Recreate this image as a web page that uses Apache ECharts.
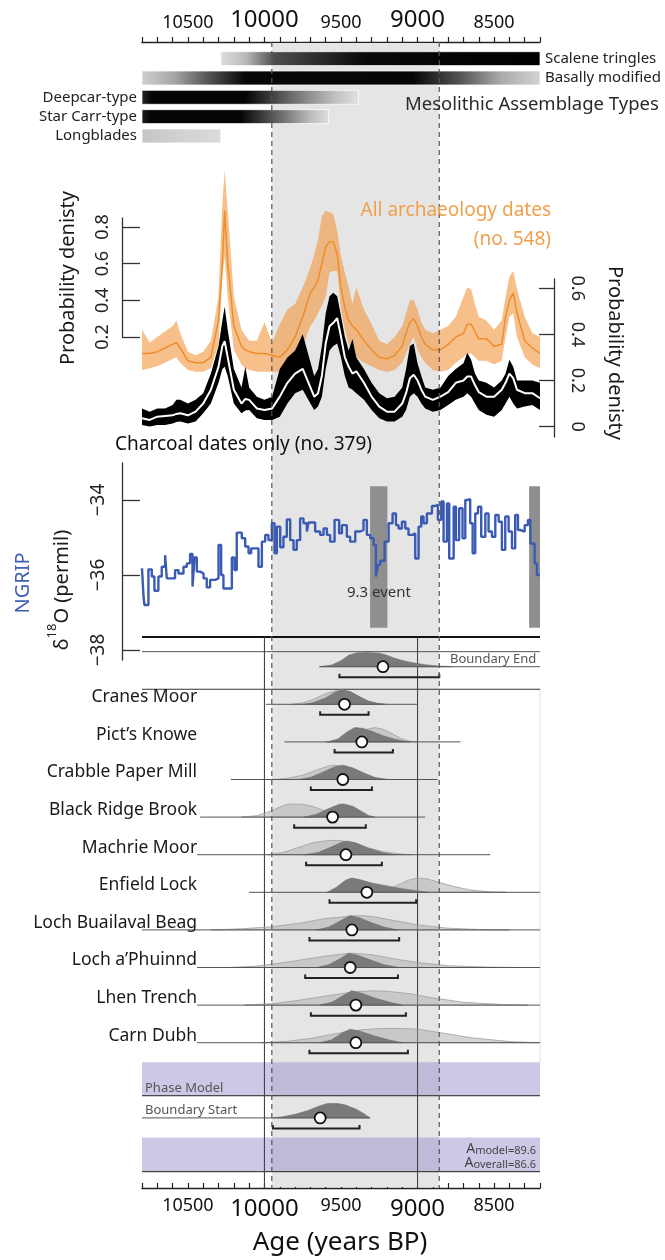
<!DOCTYPE html>
<html>
<head>
<meta charset="utf-8">
<script src="https://cdn.jsdelivr.net/npm/echarts@6/dist/echarts.min.js"></script>
<style>
html, body { margin: 0; padding: 0; background: #fff; }
#chart { width: 665px; height: 1260px; }
</style>
</head>
<body>
<div id="chart"></div>
<script>
const FONT = '"Noto Sans", "Open Sans", sans-serif';
const AGE_MIN = 8200, AGE_MAX = 10800;

// age axis
const ageTicks = [10800, 10700, 10600, 10500, 10400, 10300, 10200, 10100, 10000, 9900, 9800, 9700, 9600, 9500,
  9400, 9300, 9200, 9100, 9000, 8900, 8800, 8700, 8600, 8500, 8400, 8300, 8200];
const ageLabels = [10500, 10000, 9500, 9000, 8500];
const ageBig = [10000, 9000];
const shadeSpan = [9952, 8858];
const solidAges = [10000, 9000];

// mesolithic assemblage types
const typeNames = ['Scalene tringles', 'Basally modified', 'Deepcar-type', 'Star Carr-type', 'Longblades'];
const typeFrom = [10285, 10800, 10800, 10800, 10800];
const typeTo = [8200, 8200, 9386, 9582, 10285];

// summed probability densities
const densYears = [10800, 10750, 10700, 10650, 10600, 10575, 10550, 10500, 10450, 10400,
  10350, 10300, 10275, 10260, 10240, 10200, 10150, 10125, 10100, 10050,
  10000, 9950, 9900, 9850, 9800, 9750, 9700, 9675, 9650, 9625,
  9600, 9575, 9550, 9525, 9500, 9475, 9450, 9425, 9400, 9350,
  9300, 9250, 9200, 9150, 9100, 9075, 9050, 9025, 9000, 8975,
  8950, 8900, 8850, 8800, 8750, 8700, 8675, 8650, 8625, 8600,
  8550, 8500, 8450, 8425, 8400, 8375, 8350, 8300, 8250, 8200];
const allMed = [0.11, 0.11, 0.12, 0.14, 0.16, 0.17, 0.14, 0.07, 0.06, 0.06,
  0.09, 0.29, 0.60, 0.89, 0.60, 0.26, 0.15, 0.13, 0.12, 0.11,
  0.11, 0.10, 0.09, 0.13, 0.20, 0.31, 0.44, 0.47, 0.51, 0.60,
  0.69, 0.72, 0.72, 0.65, 0.47, 0.36, 0.29, 0.26, 0.24, 0.18,
  0.13, 0.09, 0.08, 0.10, 0.15, 0.22, 0.28, 0.30, 0.26, 0.20,
  0.16, 0.13, 0.13, 0.16, 0.20, 0.22, 0.27, 0.27, 0.23, 0.19,
  0.19, 0.15, 0.16, 0.31, 0.40, 0.44, 0.33, 0.18, 0.14, 0.11];
const allHi = [0.24, 0.17, 0.20, 0.23, 0.26, 0.29, 0.22, 0.12, 0.10, 0.12,
  0.18, 0.42, 0.93, 1.11, 0.89, 0.42, 0.24, 0.21, 0.18, 0.18,
  0.28, 0.17, 0.27, 0.35, 0.38, 0.47, 0.58, 0.65, 0.73, 0.86,
  0.89, 0.88, 0.87, 0.78, 0.64, 0.55, 0.47, 0.38, 0.47, 0.35,
  0.27, 0.18, 0.16, 0.20, 0.26, 0.33, 0.40, 0.40, 0.35, 0.28,
  0.24, 0.22, 0.24, 0.26, 0.31, 0.42, 0.47, 0.46, 0.38, 0.31,
  0.29, 0.24, 0.29, 0.42, 0.53, 0.56, 0.46, 0.31, 0.22, 0.20];
const allLo = [0.02, 0.03, 0.04, 0.06, 0.08, 0.09, 0.06, 0.02, 0.01, 0.01,
  0.03, 0.16, 0.53, 0.64, 0.42, 0.13, 0.05, 0.03, 0.02, 0.01,
  0.01, 0.01, 0.01, 0.04, 0.09, 0.15, 0.26, 0.29, 0.33, 0.37,
  0.42, 0.55, 0.56, 0.56, 0.35, 0.24, 0.16, 0.12, 0.09, 0.06,
  0.04, 0.02, 0.01, 0.02, 0.06, 0.11, 0.16, 0.20, 0.13, 0.09,
  0.06, 0.02, 0.01, 0.02, 0.06, 0.09, 0.11, 0.11, 0.09, 0.07,
  0.07, 0.05, 0.07, 0.20, 0.31, 0.33, 0.20, 0.09, 0.05, 0.03];
const charMed = [0.036, 0.029, 0.043, 0.046, 0.049, 0.055, 0.058, 0.049, 0.065, 0.10,
  0.16, 0.26, 0.35, 0.37, 0.30, 0.16, 0.10, 0.12, 0.116, 0.079,
  0.072, 0.079, 0.13, 0.19, 0.23, 0.25, 0.17, 0.13, 0.145, 0.22,
  0.36, 0.435, 0.45, 0.47, 0.39, 0.30, 0.26, 0.23, 0.24, 0.19,
  0.13, 0.087, 0.065, 0.065, 0.10, 0.145, 0.21, 0.225, 0.20, 0.16,
  0.13, 0.116, 0.13, 0.15, 0.19, 0.20, 0.217, 0.217, 0.18, 0.15,
  0.13, 0.13, 0.16, 0.19, 0.23, 0.21, 0.16, 0.145, 0.145, 0.123];
const charHi = [0.079, 0.065, 0.079, 0.079, 0.094, 0.116, 0.116, 0.10, 0.116, 0.145,
  0.23, 0.35, 0.46, 0.52, 0.42, 0.25, 0.17, 0.26, 0.17, 0.13,
  0.116, 0.13, 0.25, 0.30, 0.33, 0.40, 0.28, 0.22, 0.25, 0.35,
  0.49, 0.565, 0.58, 0.565, 0.48, 0.39, 0.33, 0.38, 0.30, 0.25,
  0.19, 0.145, 0.123, 0.13, 0.17, 0.25, 0.35, 0.36, 0.275, 0.22,
  0.17, 0.16, 0.17, 0.22, 0.25, 0.275, 0.32, 0.29, 0.23, 0.20,
  0.19, 0.17, 0.20, 0.23, 0.29, 0.26, 0.20, 0.20, 0.20, 0.19];
const charLo = [0.007, 0.0, 0.007, 0.007, 0.014, 0.02, 0.022, 0.014, 0.022, 0.058,
  0.10, 0.19, 0.25, 0.26, 0.22, 0.10, 0.058, 0.07, 0.072, 0.036,
  0.029, 0.029, 0.043, 0.10, 0.145, 0.16, 0.10, 0.072, 0.087, 0.13,
  0.25, 0.33, 0.35, 0.36, 0.30, 0.22, 0.17, 0.16, 0.145, 0.116,
  0.072, 0.036, 0.022, 0.022, 0.043, 0.072, 0.13, 0.145, 0.13, 0.10,
  0.079, 0.065, 0.072, 0.094, 0.116, 0.13, 0.145, 0.13, 0.10, 0.072,
  0.051, 0.043, 0.072, 0.10, 0.13, 0.10, 0.079, 0.087, 0.094, 0.072];

// NGRIP d18O (value holds from its year to the next one)
const ngripYears = [10800, 10790, 10784, 10758, 10736, 10719, 10693, 10671, 10649, 10638,
  10584, 10562, 10529, 10507, 10486, 10470, 10457, 10442, 10420, 10398,
  10377, 10355, 10322, 10300, 10283, 10268, 10213, 10196, 10181, 10148,
  10126, 10104, 10087, 10039, 10017, 9995, 9974, 9952, 9934, 9919,
  9897, 9876, 9854, 9832, 9810, 9789, 9767, 9745, 9723, 9712,
  9669, 9636, 9614, 9592, 9571, 9542, 9512, 9494, 9462, 9440,
  9407, 9375, 9353, 9331, 9309, 9287, 9272, 9259, 9244, 9215,
  9189, 9163, 9141, 9124, 9102, 9080, 9059, 9032, 9015, 8993,
  8976, 8961, 8939, 8906, 8884, 8867, 8845, 8830, 8808, 8793,
  8764, 8749, 8728, 8706, 8688, 8673, 8656, 8640, 8623, 8605,
  8584, 8557, 8536, 8514, 8492, 8470, 8449, 8427, 8405, 8383,
  8362, 8344, 8329, 8300, 8279, 8263, 8235, 8220, 8200];
const ngripVals = [-35.82, -36.58, -36.80, -35.85, -36.04, -36.42, -36.04, -35.78, -35.47, -36.09,
  -35.87, -35.96, -35.78, -35.69, -35.44, -36.31, -35.53, -35.91, -35.96, -36.09,
  -36.33, -36.13, -36.09, -35.20, -36.00, -36.36, -35.53, -35.87, -34.87, -35.02,
  -35.24, -35.42, -35.29, -35.78, -35.11, -34.93, -35.07, -34.62, -35.42, -34.71,
  -35.26, -34.98, -34.52, -35.07, -35.33, -35.07, -34.49, -34.62, -34.84, -34.60,
  -34.84, -34.93, -34.76, -34.93, -35.11, -34.53, -34.89, -34.67, -34.98, -35.11,
  -34.84, -34.80, -34.53, -34.93, -35.02, -35.20, -36.04, -35.73, -35.62, -35.11,
  -34.62, -34.36, -34.67, -34.76, -34.58, -34.76, -34.93, -34.89, -35.56, -34.71,
  -34.44, -34.62, -34.36, -34.16, -34.13, -34.53, -34.04, -35.11, -34.09, -35.56,
  -34.18, -35.07, -34.22, -35.02, -34.00, -33.98, -34.62, -35.42, -34.36, -34.18,
  -34.98, -34.36, -34.84, -34.98, -34.40, -34.58, -35.33, -34.44, -34.84, -35.29,
  -34.40, -34.80, -34.84, -34.67, -34.53, -35.16, -35.69, -36.00, -36.00];
const eventSpans = [[9310, 9197], [8271, 8200]];

// OxCal phase model rows
const rowNames = ['Boundary End', 'Cranes Moor', 'Pict’s Knowe', 'Crabble Paper Mill', 'Black Ridge Brook',
  'Machrie Moor', 'Enfield Lock', 'Loch Buailaval Beag', 'Loch a’Phuinnd', 'Lhen Trench', 'Carn Dubh', 'Boundary Start'];
const rowMeans = [9226, 9477, 9364, 9488, 9555, 9468, 9331, 9429, 9440, 9403, 9403, 9636];
const rowRanges = [[9510, 8858], [9636, 9320], [9542, 9161], [9697, 9298], [9806, 9338], [9728, 9233],
  [9575, 9009], [9706, 9120], [9734, 9128], [9697, 9076], [9706, 9063], [9945, 9379]];
const rowSpans = [[9640, 8200], [9990, 9000], [9870, 8720], [10220, 8870], [10420, 8950], [10440, 8525],
  [10100, 8200], [10800, 8200], [10440, 8200], [10440, 8200], [10440, 8200], [10800, 9310]];
const rowPriors = [
  null,
  [[9820, 0], [9750, 0.1], [9680, 0.35], [9600, 0.75], [9530, 0.95], [9490, 1], [9440, 0.85], [9380, 0.5], [9320, 0.22], [9260, 0.07], [9200, 0]],
  [[9600, 0], [9520, 0.1], [9450, 0.35], [9380, 0.7], [9320, 0.92], [9280, 1], [9230, 0.9], [9170, 0.6], [9110, 0.25], [9050, 0.05], [9000, 0]],
  [[9950, 0], [9850, 0.08], [9750, 0.3], [9650, 0.7], [9580, 0.95], [9540, 1], [9480, 0.9], [9400, 0.55], [9330, 0.2], [9250, 0.05], [9190, 0]],
  [[10150, 0], [10050, 0.1], [9950, 0.45], [9870, 0.85], [9820, 0.92], [9760, 0.9], [9700, 0.8], [9640, 0.58], [9580, 0.3], [9520, 0.1], [9450, 0]],
  [[9980, 0], [9880, 0.15], [9780, 0.5], [9680, 0.85], [9580, 1], [9500, 0.98], [9420, 0.85], [9330, 0.5], [9220, 0.2], [9100, 0.04], [9040, 0]],
  [[9280, 0], [9200, 0.15], [9120, 0.55], [9060, 0.85], [9000, 1], [8940, 0.95], [8860, 0.7], [8760, 0.4], [8650, 0.15], [8520, 0.03], [8420, 0]],
  [[10350, 0], [10150, 0.08], [9950, 0.22], [9750, 0.5], [9600, 0.8], [9450, 0.95], [9380, 1], [9300, 0.95], [9150, 0.65], [9000, 0.35], [8800, 0.12], [8600, 0.03], [8400, 0]],
  [[10240, 0], [10050, 0.1], [9900, 0.3], [9750, 0.55], [9600, 0.8], [9470, 0.97], [9420, 1], [9300, 0.9], [9150, 0.6], [9000, 0.35], [8800, 0.12], [8500, 0.02], [8280, 0]],
  [[10130, 0], [9950, 0.1], [9800, 0.3], [9650, 0.55], [9500, 0.8], [9400, 0.95], [9300, 1], [9200, 0.97], [9050, 0.8], [8900, 0.5], [8700, 0.2], [8450, 0.04], [8280, 0]],
  [[10020, 0], [9850, 0.1], [9700, 0.3], [9550, 0.6], [9450, 0.8], [9350, 0.92], [9230, 1], [9100, 1], [9000, 0.95], [8850, 0.7], [8650, 0.35], [8400, 0.08], [8210, 0]],
  null
];
const rowPosts = [
  [[9640, 0], [9560, 0.12], [9500, 0.42], [9450, 0.8], [9400, 0.96], [9330, 1], [9250, 0.95], [9200, 0.8], [9150, 0.6], [9100, 0.44], [9050, 0.32], [9000, 0.22], [8950, 0.14], [8900, 0.08], [8850, 0.04], [8780, 0]],
  [[9740, 0], [9680, 0.12], [9600, 0.45], [9540, 0.85], [9490, 1], [9440, 0.9], [9380, 0.55], [9320, 0.22], [9260, 0.06], [9220, 0]],
  [[9590, 0], [9520, 0.2], [9460, 0.7], [9410, 1], [9360, 0.95], [9300, 0.75], [9230, 0.45], [9160, 0.22], [9100, 0.08], [9050, 0]],
  [[9780, 0], [9700, 0.15], [9620, 0.5], [9540, 0.9], [9485, 1], [9420, 0.8], [9350, 0.45], [9280, 0.15], [9200, 0]],
  [[9740, 0], [9660, 0.2], [9580, 0.6], [9510, 0.9], [9480, 0.92], [9420, 0.75], [9370, 0.42], [9320, 0.12], [9280, 0]],
  [[9740, 0], [9650, 0.15], [9560, 0.55], [9490, 0.9], [9460, 0.95], [9400, 0.82], [9320, 0.45], [9230, 0.15], [9150, 0]],
  [[9590, 0], [9530, 0.35], [9470, 0.85], [9430, 1], [9380, 0.9], [9300, 0.65], [9200, 0.45], [9100, 0.25], [9000, 0.1], [8930, 0]],
  [[9660, 0], [9580, 0.2], [9500, 0.65], [9440, 1], [9380, 0.85], [9300, 0.5], [9220, 0.2], [9130, 0]],
  [[9660, 0], [9580, 0.2], [9500, 0.65], [9450, 1], [9390, 0.85], [9300, 0.5], [9220, 0.2], [9120, 0]],
  [[9640, 0], [9560, 0.2], [9480, 0.7], [9430, 1], [9370, 0.85], [9280, 0.5], [9180, 0.2], [9100, 0]],
  [[9640, 0], [9560, 0.2], [9490, 0.7], [9440, 0.95], [9380, 0.82], [9290, 0.5], [9190, 0.2], [9100, 0]],
  [[9945, 0], [9880, 0.08], [9800, 0.25], [9720, 0.5], [9650, 0.8], [9590, 1], [9520, 1], [9470, 0.9], [9400, 0.6], [9350, 0.3], [9310, 0]]
];

// ---- styles / layout ----
const ORANGE = '#f0a04c';
const GRID_X = { left: 142, right: 125 };
const typeStops = [
  [[0, '#dedede'], [0.08, '#b9b9b9'], [0.17, '#4d4d4d'], [0.45, '#0a0a0a'], [1, '#000']],
  [[0, '#cfcfcf'], [0.08, '#a8a8a8'], [0.16, '#5a5a5a'], [0.26, '#080808'], [0.68, '#050505'], [0.8, '#555'], [0.9, '#aaa'], [1, '#d2d2d2']],
  [[0, '#262626'], [0.05, '#050505'], [0.48, '#050505'], [0.7, '#707070'], [0.88, '#bdbdbd'], [1, '#e2e2e2']],
  [[0, '#1e1e1e'], [0.05, '#050505'], [0.53, '#050505'], [0.74, '#6a6a6a'], [0.9, '#bbbbbb'], [1, '#dedede']],
  [[0, '#c6c6c6'], [1, '#dcdcdc']]
];
const PEAK = 0.38;          // distribution peak height in row units
const BRACKET_DROP = 0.28;  // range bar below baseline, row units
const EVENT_Y = [-33.63, -37.41];
const oxRules = [[-0.79, 2, '#111'], [-0.40, 1, '#555'], [0.60, 1, '#333'], [11.41, 1, '#222'], [13.43, 1, '#222']];
const oxBands = [[10.52, 11.41], [12.52, 13.43]];

function pairs(xs, ys) { return xs.map((x, i) => [x, ys[i]]); }
function rowSlot(i) { return i === 11 ? 12 : i; }

// whole uncertainty envelope drawn once, through the axis scales
function bandRenderer(lo, hi, fill) {
  return (params, api) => {
    if (params.dataIndex !== 0) return;
    const top = densYears.map((y, i) => api.coord([y, hi[i]]));
    const bot = densYears.map((y, i) => api.coord([y, lo[i]])).reverse();
    return { type: 'polygon', shape: { points: top.concat(bot) }, style: { fill: fill } };
  };
}

const chart = echarts.init(document.getElementById('chart'));

function hiddenX(grid) {
  return { type: 'value', gridIndex: grid, min: AGE_MIN, max: AGE_MAX, inverse: true, show: false, splitLine: { show: false } };
}

const ageLabelCfg = {
  customValues: ageLabels,
  color: '#111',
  formatter: v => (ageBig.indexOf(v) >= 0 ? '{b|' + v + '}' : '{s|' + v + '}'),
  rich: {
    b: { fontSize: 24, fontFamily: FONT, color: '#111', lineHeight: 26 },
    s: { fontSize: 18, fontFamily: FONT, color: '#111', lineHeight: 20 }
  }
};

function txt(x, y, text, size, style, extra) {
  return Object.assign({
    type: 'text', x: x, y: y, z: 100, silent: true,
    style: Object.assign({ text: text, fontSize: size, fontFamily: FONT, fill: '#1a1a1a', align: 'left', verticalAlign: 'middle' }, style || {})
  }, extra || {});
}

const option = {
  animation: false,
  backgroundColor: '#fff',
  grid: [
    Object.assign({ top: 42, bottom: 72 }, GRID_X),
    Object.assign({ top: 49, height: 96.65 }, GRID_X),
    Object.assign({ top: 218, height: 119 }, GRID_X),
    Object.assign({ top: 279, height: 158 }, GRID_X),
    Object.assign({ top: 463, height: 197 }, GRID_X),
    Object.assign({ top: 637, height: 551 }, GRID_X)
  ],
  xAxis: [
    {
      type: 'value', gridIndex: 0, position: 'top', min: AGE_MIN, max: AGE_MAX, inverse: true,
      axisLine: { onZero: false, lineStyle: { color: '#222', width: 1.4 } },
      axisTick: { customValues: ageTicks, length: 5, lineStyle: { color: '#222', width: 1.2 } },
      axisLabel: Object.assign({ margin: 9 }, ageLabelCfg),
      splitLine: { show: false }
    },
    {
      type: 'value', gridIndex: 0, position: 'bottom', min: AGE_MIN, max: AGE_MAX, inverse: true,
      axisLine: { onZero: false, lineStyle: { color: '#222', width: 1.4 } },
      axisTick: { customValues: ageTicks, inside: true, length: 5, lineStyle: { color: '#222', width: 1.2 } },
      axisLabel: Object.assign({ margin: 8 }, ageLabelCfg),
      splitLine: { show: false }
    },
    hiddenX(1), hiddenX(2), hiddenX(3), hiddenX(4), hiddenX(5)
  ],
  yAxis: [
    { type: 'value', gridIndex: 0, min: 0, max: 1, show: false, splitLine: { show: false } },
    { type: 'value', gridIndex: 1, min: -0.5, max: 4.5, inverse: true, show: false, splitLine: { show: false } },
    {
      type: 'value', gridIndex: 2, position: 'left', offset: 20, min: 0.2, max: 0.849,
      axisLine: { show: true, onZero: false, lineStyle: { color: '#333', width: 1.3 } },
      axisTick: { show: true, inside: true, length: 18, customValues: [0.2, 0.4, 0.6, 0.8], lineStyle: { color: '#333', width: 1.3 } },
      axisLabel: { customValues: [0.2, 0.4, 0.6, 0.8], rotate: 90, margin: 10, fontSize: 18, fontFamily: FONT, color: '#222', formatter: v => v.toFixed(1) },
      splitLine: { show: false }
    },
    {
      type: 'value', gridIndex: 3, position: 'right', offset: 14, min: -0.045, max: 0.64,
      axisLine: { show: true, onZero: false, lineStyle: { color: '#333', width: 1.3 } },
      axisTick: { show: true, inside: true, length: 15, customValues: [0, 0.2, 0.4, 0.6], lineStyle: { color: '#333', width: 1.3 } },
      axisLabel: { customValues: [0, 0.2, 0.4, 0.6], rotate: -90, margin: 14, fontSize: 18, fontFamily: FONT, color: '#222', formatter: v => (v === 0 ? '0' : v.toFixed(1)) },
      splitLine: { show: false }
    },
    {
      type: 'value', gridIndex: 4, position: 'left', offset: 20, min: -38.267, max: -33.013,
      axisLine: { show: true, onZero: false, lineStyle: { color: '#333', width: 1.3 } },
      axisTick: { show: true, inside: true, length: 18, customValues: [-38, -36, -34], lineStyle: { color: '#333', width: 1.3 } },
      axisLabel: { customValues: [-38, -36, -34], rotate: 90, margin: 14, fontSize: 19, fontFamily: FONT, color: '#222', formatter: v => '\u2212' + Math.abs(v) },
      splitLine: { show: false }
    },
    { type: 'value', gridIndex: 5, min: -0.79, max: 13.864, inverse: true, show: false, splitLine: { show: false } }
  ],
  series: [
    // shaded interval
    {
      type: 'custom', xAxisIndex: 0, yAxisIndex: 0, z: 1, silent: true,
      data: [shadeSpan],
      encode: { x: [0, 1] },
      renderItem: (params, api) => {
        const a = api.coord([api.value(0), 1]);
        const b = api.coord([api.value(1), 0]);
        return { type: 'rect', shape: { x: a[0], y: a[1] + 1, width: b[0] - a[0], height: b[1] - a[1] - 2 }, style: { fill: '#e5e5e5' } };
      }
    },
    // assemblage type bars
    {
      type: 'custom', xAxisIndex: 2, yAxisIndex: 1, z: 5, silent: true,
      data: typeNames.map((n, i) => [typeFrom[i], typeTo[i], i]),
      encode: { x: [0, 1], y: 2 },
      renderItem: (params, api) => {
        const i = params.dataIndex;
        const a = api.coord([typeFrom[i], i]);
        const b = api.coord([typeTo[i], i]);
        const h = Math.abs(api.size([0, 0.72])[1]);
        const atRight = typeTo[i] <= AGE_MIN;
        return {
          type: 'group',
          children: [
            {
              type: 'rect', shape: { x: a[0], y: a[1] - h / 2, width: b[0] - a[0], height: h },
              style: {
                fill: new echarts.graphic.LinearGradient(0, 0, 1, 0, typeStops[i].map(s => ({ offset: s[0], color: s[1] }))),
                stroke: 'rgba(255,255,255,0.7)', lineWidth: 1
              }
            },
            {
              type: 'text', x: atRight ? b[0] + 5 : a[0] - 5, y: a[1],
              style: { text: typeNames[i], align: atRight ? 'left' : 'right', verticalAlign: 'middle', fontSize: 15, fontFamily: FONT, fill: '#222' }
            }
          ]
        };
      }
    },
    // all archaeology dates: envelope + median
    {
      type: 'custom', xAxisIndex: 3, yAxisIndex: 2, z: 6, silent: true,
      data: densYears.map((y, i) => [y, allLo[i], allHi[i]]),
      encode: { x: 0, y: [1, 2] },
      renderItem: bandRenderer(allLo, allHi, 'rgba(242,150,60,0.6)')
    },
    {
      type: 'line', xAxisIndex: 3, yAxisIndex: 2, z: 7, clip: false, silent: true, symbol: 'none',
      data: pairs(densYears, allMed), lineStyle: { color: '#ee8d2a', width: 1.5 }
    },
    // charcoal dates: envelope + median
    {
      type: 'custom', xAxisIndex: 4, yAxisIndex: 3, z: 8, silent: true,
      data: densYears.map((y, i) => [y, charLo[i], charHi[i]]),
      encode: { x: 0, y: [1, 2] },
      renderItem: bandRenderer(charLo, charHi, '#000')
    },
    {
      type: 'line', xAxisIndex: 4, yAxisIndex: 3, z: 9, clip: false, silent: true, symbol: 'none',
      data: pairs(densYears, charMed), lineStyle: { color: '#fff', width: 2 }
    },
    // NGRIP event bars
    {
      type: 'custom', xAxisIndex: 5, yAxisIndex: 4, z: 5, silent: true,
      data: eventSpans,
      encode: { x: [0, 1] },
      renderItem: (params, api) => {
        const a = api.coord([api.value(0), EVENT_Y[0]]);
        const b = api.coord([api.value(1), EVENT_Y[1]]);
        return { type: 'rect', shape: { x: a[0], y: a[1], width: b[0] - a[0], height: b[1] - a[1] }, style: { fill: '#8f8f8f' } };
      }
    },
    // NGRIP record
    {
      type: 'line', xAxisIndex: 5, yAxisIndex: 4, z: 7, silent: true, symbol: 'none', step: 'end',
      data: pairs(ngripYears, ngripVals), lineStyle: { color: '#3b5bb3', width: 2.4 }
    },
    // OxCal frame: bands, rules, solid lines
    {
      type: 'custom', xAxisIndex: 6, yAxisIndex: 5, z: 3, silent: true,
      data: [[AGE_MAX, 0]],
      renderItem: (params, api) => {
        const children = [];
        oxBands.forEach(b => {
          const p = api.coord([AGE_MAX, b[0]]);
          const q = api.coord([AGE_MIN, b[1]]);
          children.push({ type: 'rect', shape: { x: p[0], y: p[1], width: q[0] - p[0], height: q[1] - p[1] }, style: { fill: 'rgba(140,135,200,0.45)' } });
        });
        const e1 = api.coord([AGE_MIN, 0.6]);
        const e2 = api.coord([AGE_MIN, 10.52]);
        children.push({ type: 'line', shape: { x1: e1[0], y1: e1[1], x2: e2[0], y2: e2[1] }, style: { stroke: '#e2e2e2', lineWidth: 1 } });
        oxRules.forEach(r => {
          const p = api.coord([AGE_MAX, r[0]]);
          const q = api.coord([AGE_MIN, r[0]]);
          children.push({ type: 'line', shape: { x1: p[0], y1: p[1], x2: q[0], y2: q[1] }, style: { stroke: r[2], lineWidth: r[1] } });
        });
        solidAges.forEach(a => {
          const p = api.coord([a, -0.79]);
          const q = api.coord([a, 13.864]);
          children.push({ type: 'line', shape: { x1: p[0], y1: p[1], x2: q[0], y2: q[1] }, style: { stroke: '#444', lineWidth: 1.1 } });
        });
        return { type: 'group', children: children };
      }
    },
    // OxCal rows
    {
      type: 'custom', xAxisIndex: 6, yAxisIndex: 5, z: 4, silent: true,
      data: rowNames.map((n, i) => [rowMeans[i], rowSlot(i)]),
      encode: { x: 0, y: 1 },
      renderItem: (params, api) => {
        const i = params.dataIndex;
        const slot = rowSlot(i);
        const hpx = Math.abs(api.size([0, PEAK])[1]);
        const shape = pts => pts.map(p => { const c = api.coord([p[0], slot]); return [c[0], c[1] - p[1] * hpx]; });
        const children = [];
        const s0 = api.coord([rowSpans[i][0], slot]);
        const s1 = api.coord([rowSpans[i][1], slot]);
        if (rowPriors[i]) {
          children.push({ type: 'polygon', shape: { points: shape(rowPriors[i]) }, style: { fill: 'rgba(165,165,165,0.45)', stroke: '#a0a0a0', lineWidth: 0.8 } });
        }
        children.push({ type: 'polygon', shape: { points: shape(rowPosts[i]) }, style: { fill: '#7a7a7a', stroke: '#6e6e6e', lineWidth: 0.6 } });
        children.push({ type: 'line', shape: { x1: s0[0], y1: s0[1], x2: s1[0], y2: s1[1] }, style: { stroke: '#555', lineWidth: 1 } });
        const r0 = api.coord([rowRanges[i][0], slot + BRACKET_DROP]);
        const r1 = api.coord([rowRanges[i][1], slot + BRACKET_DROP]);
        children.push({
          type: 'polyline',
          shape: { points: [[r0[0], r0[1] - 3.5], [r0[0], r0[1]], [r1[0], r1[1]], [r1[0], r1[1] - 3.5]] },
          style: { stroke: '#222', lineWidth: 2, fill: null }
        });
        const m = api.coord([rowMeans[i], slot]);
        children.push({ type: 'circle', shape: { cx: m[0], cy: m[1], r: 5.5 }, style: { fill: '#fff', stroke: '#111', lineWidth: 1.8 } });
        if (i > 0 && i < 11) {
          const l = api.coord([10440, slot]);
          children.push({
            type: 'text', x: l[0], y: l[1] - 7,
            style: { text: rowNames[i], align: 'right', verticalAlign: 'middle', fontSize: 17.5, fontFamily: FONT, fill: '#1a1a1a' }
          });
        }
        return { type: 'group', children: children };
      }
    },
    // dashed interval edges
    {
      type: 'custom', xAxisIndex: 0, yAxisIndex: 0, z: 20, silent: true,
      data: shadeSpan.map(v => [v]),
      encode: { x: 0 },
      renderItem: (params, api) => {
        const a = api.coord([api.value(0), 1]);
        const b = api.coord([api.value(0), 0]);
        return { type: 'line', shape: { x1: a[0], y1: a[1], x2: b[0], y2: b[1] }, style: { stroke: '#555', lineWidth: 1.2, lineDash: [5, 4] } };
      }
    }
  ],
  graphic: [
    txt(405, 105, 'Mesolithic Assemblage Types', 18.5, { fill: '#2a2a2a' }),
    txt(551, 211, 'All archaeology dates', 19, { fill: ORANGE, align: 'right' }),
    txt(551, 240, '(no. 548)', 19, { fill: ORANGE, align: 'right' }),
    txt(115, 445, 'Charcoal dates only (no. 379)', 19, { fill: '#111' }),
    txt(68, 278, 'Probability denisty', 20, { align: 'center' }, { rotation: Math.PI / 2 }),
    txt(615, 353, 'Probability denisty', 20, { align: 'center' }, { rotation: -Math.PI / 2 }),
    txt(23, 583, 'NGRIP', 20, { align: 'center', fill: '#3f5fb6' }, { rotation: Math.PI / 2 }),
    txt(59, 590, '{n|\u03b4}{sup|18}{n|O (permil)}', 20, {
      align: 'center',
      rich: {
        n: { fontSize: 20, fontFamily: FONT, fill: '#1a1a1a', lineHeight: 26, verticalAlign: 'bottom' },
        sup: { fontSize: 13, fontFamily: FONT, fill: '#1a1a1a', lineHeight: 26, verticalAlign: 'top' }
      }
    }, { rotation: Math.PI / 2 }),
    txt(379, 593, '9.3 event', 15, { align: 'center', fill: '#333' }),
    txt(450, 659, 'Boundary End', 13, { fill: '#555' }),
    txt(145, 1088, 'Phase Model', 13, { fill: '#555' }),
    txt(145, 1110.5, 'Boundary Start', 13, { fill: '#555' }),
    txt(536, 1148, '{a|A}{s|model=89.6}', 12, {
      align: 'right',
      rich: { a: { fontSize: 14, fontFamily: FONT, fill: '#444', lineHeight: 16, verticalAlign: 'bottom' }, s: { fontSize: 11, fontFamily: FONT, fill: '#444', lineHeight: 14, verticalAlign: 'bottom' } }
    }),
    txt(536, 1162, '{a|A}{s|overall=86.6}', 12, {
      align: 'right',
      rich: { a: { fontSize: 14, fontFamily: FONT, fill: '#444', lineHeight: 16, verticalAlign: 'bottom' }, s: { fontSize: 11, fontFamily: FONT, fill: '#444', lineHeight: 14, verticalAlign: 'bottom' } }
    }),
    txt(340, 1243, 'Age (years BP)', 26, { align: 'center', fill: '#111' })
  ]
};

chart.setOption(option);
</script>
</body>
</html>
